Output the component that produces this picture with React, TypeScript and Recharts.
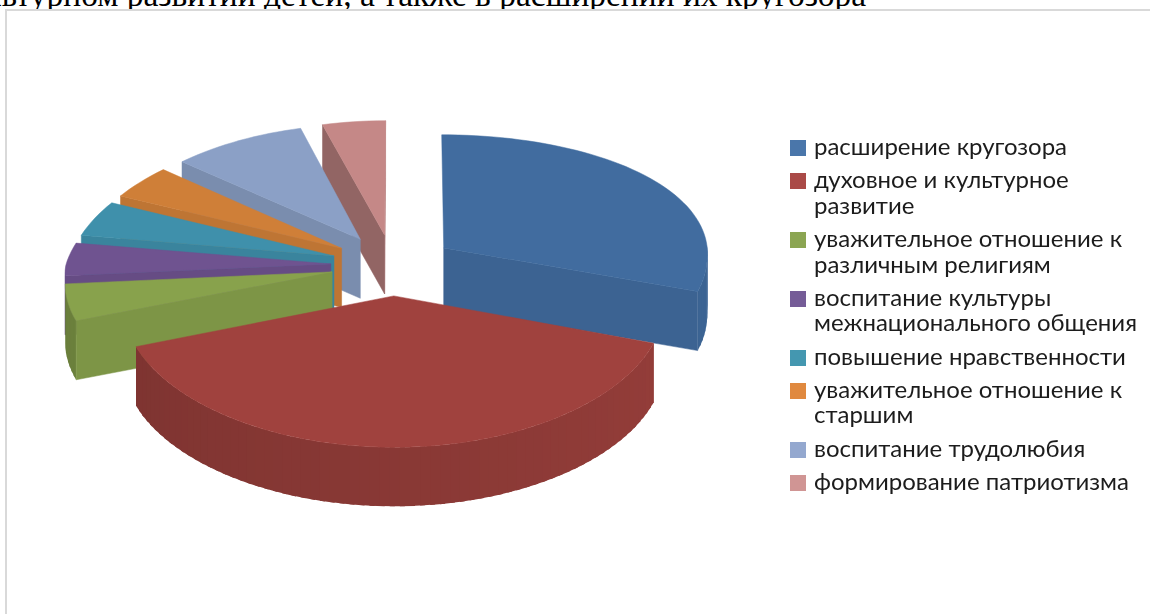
import React from 'react';
import { Legend, Pie, PieChart } from 'recharts';

const categories = [
  'расширение кругозора',
  'духовное и культурное развитие',
  'уважительное отношение к различным религиям',
  'воспитание культуры межнационального общения',
  'повышение нравственности',
  'уважительное отношение к старшим',
  'воспитание трудолюбия',
  'формирование патриотизма',
];
const shares = [30.3, 38.4, 4.4, 4, 4.4, 4.3, 9.2, 4.4];
const sliceColors = ['#416c9f', '#a0423e', '#88a24c', '#6f5390', '#3f90ab', '#cf7f38', '#8ba0c6', '#c58887'];
const legendColors = ['#4a76aa', '#aa4a47', '#8ba552', '#755c97', '#4497b0', '#e0893f', '#94a8cf', '#d09594'];

// slices are painted back to front, so red comes last even though it is second in the legend
const drawOrder = [0, 7, 6, 5, 4, 3, 2, 1];
const rows = drawOrder.map((i) => ({ name: categories[i], value: shares[i], fill: sliceColors[i] }));
const total = shares.reduce((a, b) => a + b, 0);
const firstAngle = 90 - (shares[0] / total) * 360;

// fake 3D settings
const EXPLODE = 0.235;
const PERSPECTIVE = 0.1054;
const PERSPECTIVE_X_BACK_LEFT = 0.13;
const PERSPECTIVE_X_BACK_RIGHT = 0.04;
const PERSPECTIVE_X_FRONT = 0.07;
const BACK_LEFT_LIFT = 1.03;
const TILT = 0.4846;
const DEPTH = 59;

const rad = (deg: number) => (deg * Math.PI) / 180;

const shade = (hex: string, f: number) => {
  const n = parseInt(hex.slice(1), 16);
  const c = [(n >> 16) & 255, (n >> 8) & 255, n & 255].map((v) => Math.round(v * f));
  return `rgb(${c[0]},${c[1]},${c[2]})`;
};

const Slice3D = (props: any) => {
  const { cx, cy, outerRadius: R, startAngle, endAngle, fill } = props;
  const mid = rad((startAngle + endAngle) / 2);
  const ox = EXPLODE * Math.cos(mid);
  const oy = -EXPLODE * Math.sin(mid);

  const project = (xw: number, yw: number) => {
    const s = 1 / (1 - PERSPECTIVE * yw);
    const back = xw < 0 ? PERSPECTIVE_X_BACK_LEFT : PERSPECTIVE_X_BACK_RIGHT;
    const sx = 1 / (1 - (yw < 0 ? back : PERSPECTIVE_X_FRONT) * yw);
    const lift = yw < 0 && xw < 0 ? BACK_LEFT_LIFT : 1;
    return [cx + R * xw * sx, cy + R * TILT * yw * s * lift];
  };
  const rim = (deg: number) => project(ox + Math.cos(rad(deg)), oy - Math.sin(rad(deg)));
  const apex = project(ox, oy);
  const pts = (list: number[][]) => list.map((p) => `${p[0].toFixed(1)},${p[1].toFixed(1)}`).join(' ');
  const down = (p: number[]) => [p[0], p[1] + DEPTH];

  const angles: number[] = [];
  for (let a = startAngle; a < endAngle; a += 2) angles.push(a);
  angles.push(endAngle);

  // outer wall, only the part facing the viewer; each band overlaps the next to hide seams
  const wall: React.ReactNode[] = [];
  for (let i = 0; i < angles.length - 1; i++) {
    const a = angles[i];
    const b = angles[i + 1];
    if (Math.sin(rad((a + b) / 2)) >= 0) continue;
    const norm = ((((a + b) / 2) % 360) + 360) % 360;
    const color = shade(fill, 0.77 + ((norm - 180) / 180) * 0.17);
    const p = rim(a);
    const q = rim(Math.min(b + 1, endAngle));
    wall.push(<polygon key={i} points={pts([p, q, down(q), down(p)])} fill={color} />);
  }

  // cut faces along the two straight edges
  const cut = (deg: number, normal: number) => {
    if (Math.sin(rad(normal)) >= 0) return null;
    const phi = ((normal % 360) + 360) % 360;
    const color = shade(fill, Math.min(0.92, 0.74 + (phi - 196) * 0.0042));
    const p = rim(deg);
    return <polygon points={pts([apex, p, down(p), down(apex)])} fill={color} stroke={color} strokeWidth={0.5} />;
  };

  return (
    <g>
      {wall}
      {cut(startAngle, startAngle - 90)}
      {cut(endAngle, endAngle + 90)}
      <polygon points={pts([apex, ...angles.map(rim)])} fill={fill} stroke={fill} strokeWidth={0.5} />
    </g>
  );
};

const LegendBox = ({ payload }: any) => {
  const items = [...(payload || [])].sort((a, b) => categories.indexOf(a.value) - categories.indexOf(b.value));
  return (
    <div style={{ width: 350, fontFamily: 'Lato, "Open Sans", sans-serif', fontSize: 24, lineHeight: '25.6px', color: '#1c1c1c' }}>
      {items.map((it: any) => (
        <div key={it.value} style={{ display: 'flex', marginBottom: 7.6 }}>
          <span
            style={{
              flex: 'none',
              width: 16,
              height: 16,
              marginTop: 7,
              marginRight: 8,
              background: legendColors[categories.indexOf(it.value)],
            }}
          />
          <span style={{ width: 326 }}>{it.value}</span>
        </div>
      ))}
    </div>
  );
};

export default function App() {
  return (
    <div style={{ position: 'absolute', left: 0, top: 0, width: 1150, height: 614, overflow: 'hidden', background: '#fff' }}>
      <div
        style={{
          position: 'absolute',
          right: 284,
          top: -23,
          whiteSpace: 'nowrap',
          fontFamily: '"Liberation Serif", serif',
          fontSize: 33.45,
          lineHeight: '36px',
          color: '#000',
        }}
      >
        культурном развитии детей, а также в расширении их кругозора
      </div>
      <div
        style={{
          position: 'absolute',
          left: 5,
          top: 9,
          width: 1160,
          height: 620,
          border: '2px solid #d9d9d9',
          background: '#fff',
        }}
      />
      <div style={{ position: 'absolute', left: 0, top: 0, filter: 'blur(0.4px)' }}>
        <PieChart width={1150} height={614} margin={{ top: 0, right: 0, bottom: 0, left: 0 }}>
          <Pie
            data={rows}
            dataKey="value"
            nameKey="name"
            cx={393}
            cy={265}
            outerRadius={265}
            startAngle={firstAngle}
            endAngle={firstAngle + 360}
            stroke="none"
            shape={(p: any) => <Slice3D {...p} />}
            isAnimationActive={false}
          />
          <Legend
            layout="vertical"
            align="right"
            verticalAlign="top"
            content={<LegendBox />}
            wrapperStyle={{ left: 790, top: 133, width: 360 }}
          />
        </PieChart>
      </div>
    </div>
  );
}
